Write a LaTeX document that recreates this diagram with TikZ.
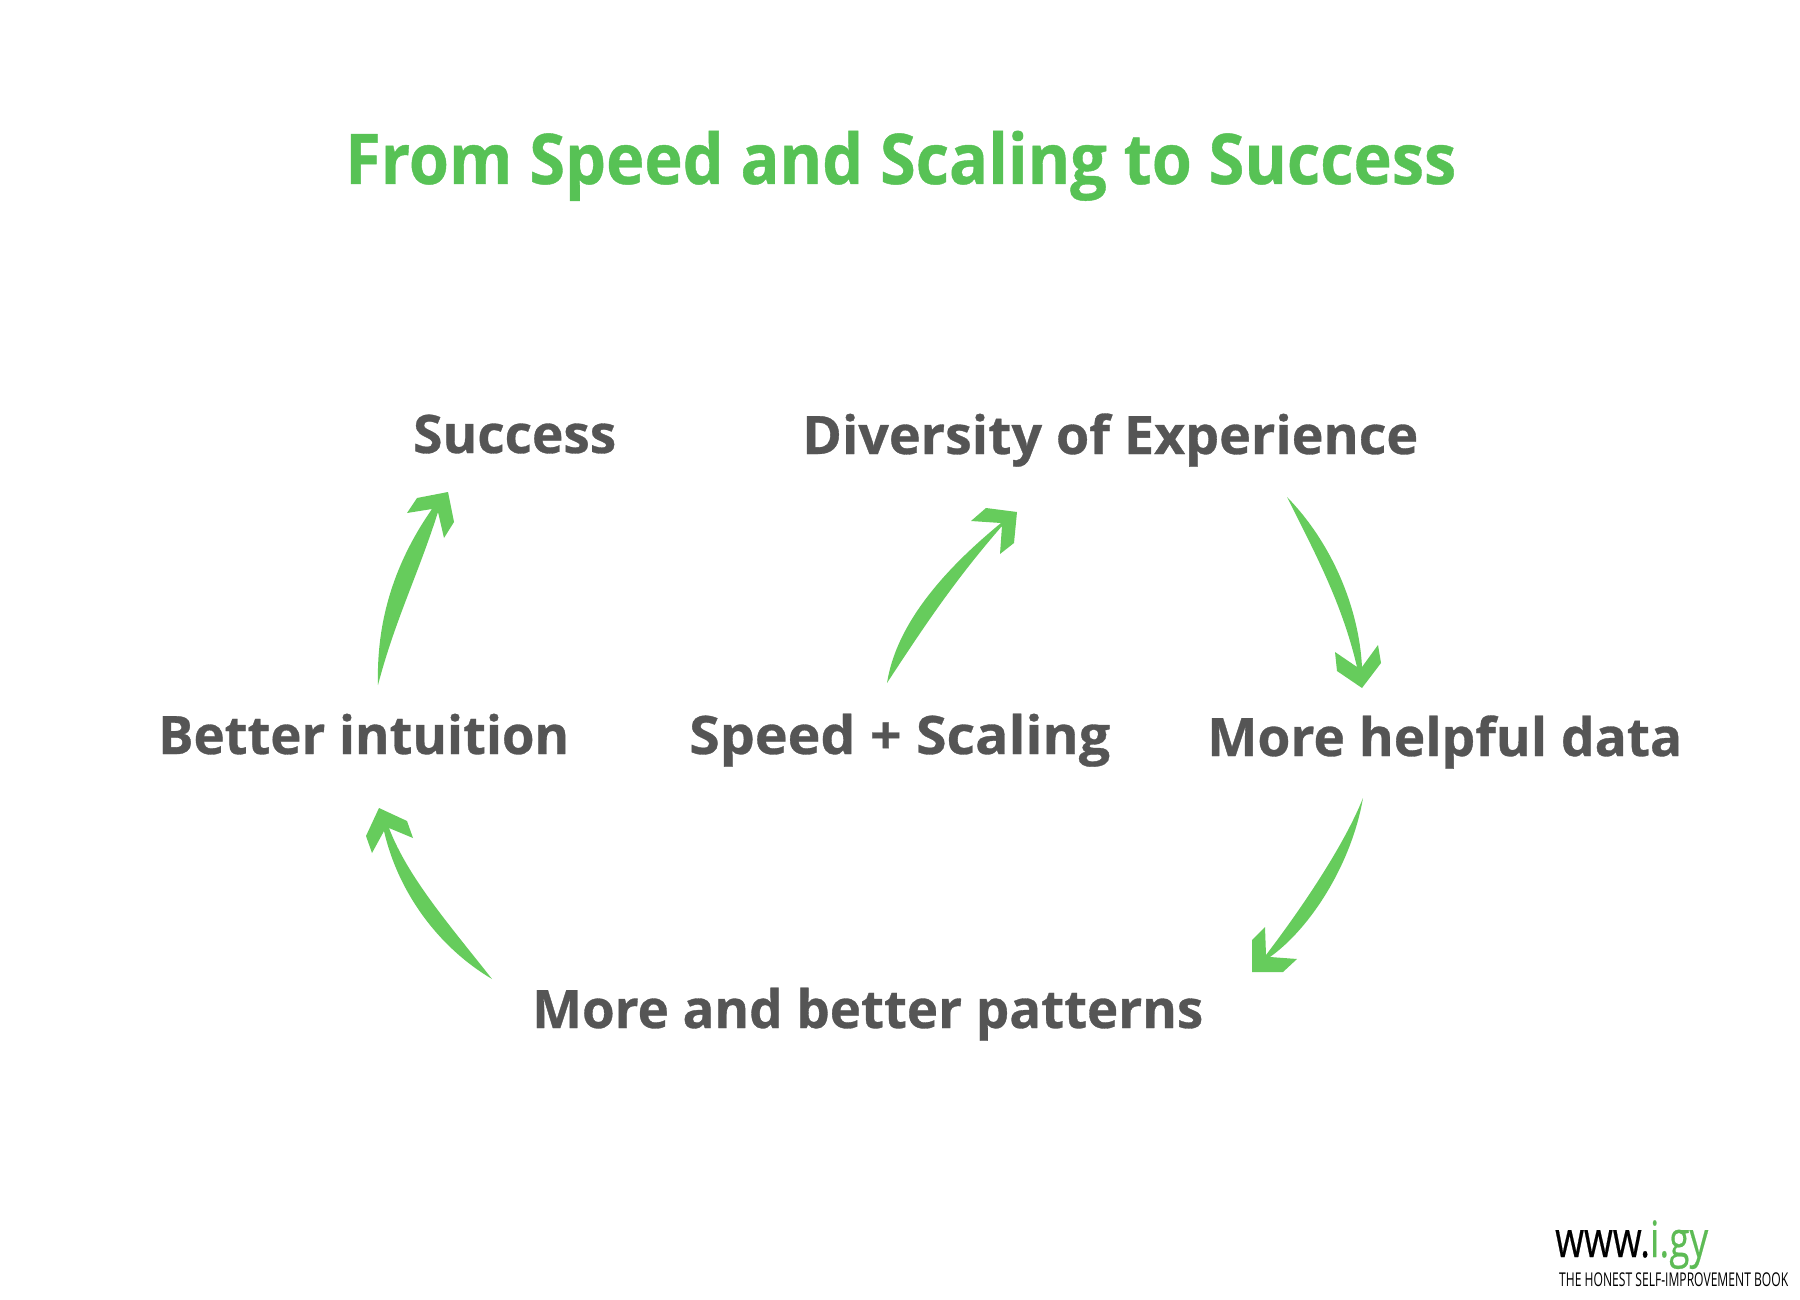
\documentclass[tikz,border=0pt]{standalone}
\usepackage{fontspec}
\usepackage{graphicx}
\setmainfont{Open Sans}[BoldFeatures={FakeBold=0.6}]
\definecolor{titlegreen}{HTML}{57C255}
\definecolor{arrowgreen}{HTML}{66CC5C}
\definecolor{labelgray}{HTML}{555555}
\definecolor{logogreen}{HTML}{5DBB55}
\newcommand{\fitw}[2]{\resizebox{#1pt}{\height}{#2}}
\tikzset{
  titletext/.style={anchor=base west,inner sep=0pt,text=titlegreen,font=\fontsize{70}{80}\selectfont\bfseries},
  labeltext/.style={anchor=base west,inner sep=0pt,text=labelgray,font=\fontsize{53}{60}\selectfont\bfseries},
  logotext/.style={anchor=base west,inner sep=0pt,font=\fontsize{50}{56}\selectfont},
  tagtext/.style={anchor=base west,inner sep=0pt,font=\fontsize{19}{22}\selectfont},
  brush/.style={fill=arrowgreen,draw=none}
}
\begin{document}
\begin{tikzpicture}[x=1pt,y=-1pt]
\useasboundingbox (0,0) rectangle (1800,1300);
\fill[white] (0,0) rectangle (1800,1300);
\node[titletext] (title) at (345,184) {\fitw{1111}{From Speed and Scaling to Success}};
\node[labeltext] (success) at (413,453) {\fitw{203}{Success}};
\node[labeltext] (diversity) at (802,454) {\fitw{616}{Diversity of Experience}};
\node[labeltext] (intuition) at (158,754) {\fitw{411}{Better intuition}};
\node[labeltext] (speed) at (689,754) {\fitw{421}{Speed + Scaling}};
\node[labeltext] (data) at (1207,756) {\fitw{475}{More helpful data}};
\node[labeltext] (patterns) at (532,1028) {\fitw{671}{More and better patterns}};
\node[logotext] (logo) at (1555,1257) {\textcolor{black}{\fitw{153}{\addfontfeature{FakeBold=0.5}www.\textcolor{logogreen}{i.gy}}}};
\node[tagtext] (tag) at (1559,1286) {\fitw{229}{THE HONEST SELF-IMPROVEMENT BOOK}};
% intuition -> success
\fill[brush] (378,685) .. controls (376,612) and (400,555) .. (432,509) -- (407,513) -- (417,498) -- (448,492) -- (454,522) -- (444,538) -- (438,512) .. controls (418,575) and (395,620) .. (378,685) -- cycle;
% speed -> diversity
\fill[brush] (887,683) .. controls (897,620) and (950,565) .. (1001,523) -- (971,521) -- (986,508) -- (1017,512) -- (1014,543) -- (1000,554) -- (1002,526) .. controls (955,580) and (925,625) .. (887,683) -- cycle;
% diversity -> data
\fill[brush] (1287,497) .. controls (1332,543) and (1359,608) .. (1362,667) -- (1378,645) -- (1381,663) -- (1362,688) -- (1337,671) -- (1335,652) -- (1357,667) .. controls (1342,603) and (1315,553) .. (1287,497) -- cycle;
% data -> patterns
\fill[brush] (1363,798) .. controls (1352,862) and (1312,927) .. (1270,957) -- (1297,959) -- (1283,972) -- (1252,972) -- (1252,940) -- (1265,927) -- (1266,955) .. controls (1298,913) and (1343,848) .. (1363,798) -- cycle;
% patterns -> intuition
\fill[brush] (492,979) .. controls (438,947) and (398,892) .. (384,831) -- (372,853) -- (366,836) -- (379,808) -- (407,821) -- (413,838) -- (389,828) .. controls (408,878) and (452,928) .. (492,979) -- cycle;
\end{tikzpicture}
\end{document}
